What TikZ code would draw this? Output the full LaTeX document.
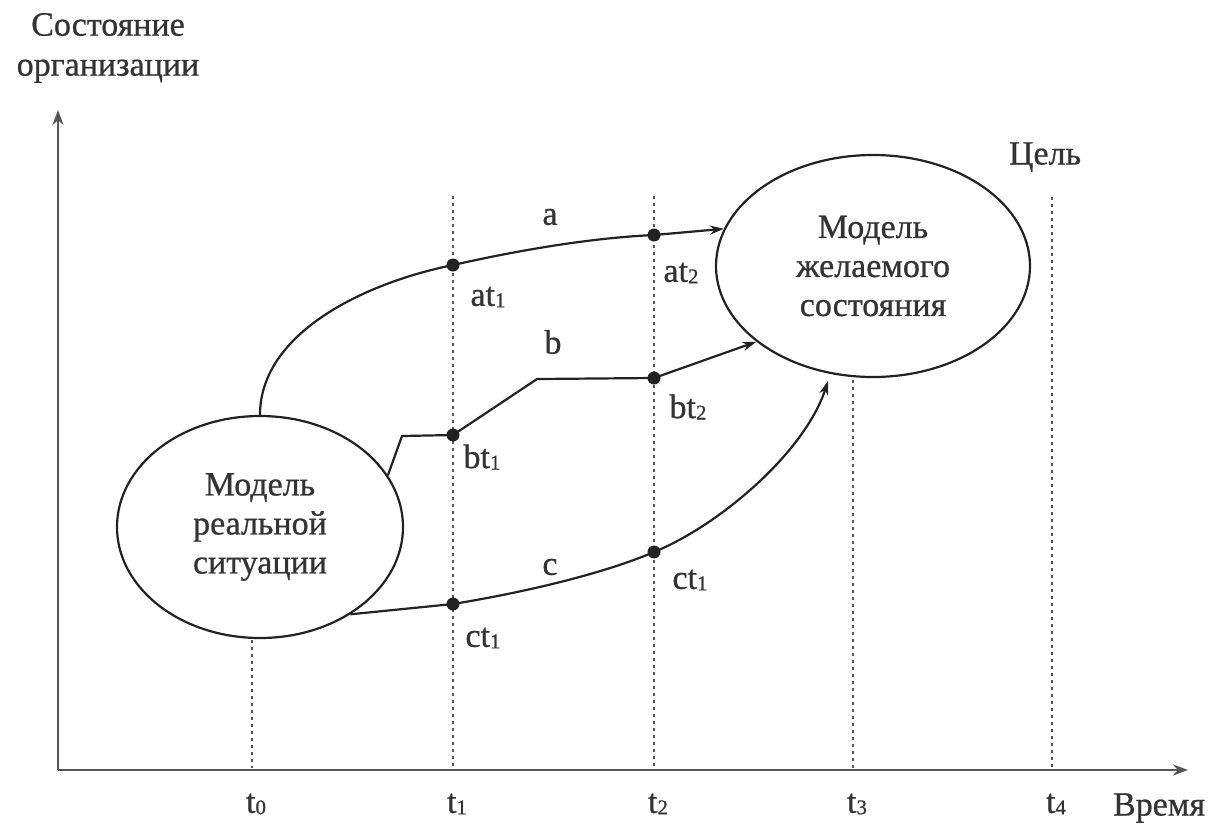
\documentclass[tikz,border=0pt]{standalone}
\usepackage{fontspec}
\setmainfont{Liberation Serif}[FakeBold=0.7]
\usetikzlibrary{shapes.geometric,arrows.meta}
\definecolor{ink}{HTML}{222222}
\definecolor{txt}{HTML}{333333}
\definecolor{axis}{HTML}{555555}
\newcommand{\sdig}[1]{\raisebox{-1.5pt}{\fontsize{21}{21}\selectfont #1}}
\begin{document}
\begin{tikzpicture}[x=1pt,y=-1pt,
  lbl/.style={font=\fontsize{34}{39}\selectfont, text=txt, inner sep=0pt},
  model/.style={draw=ink, line width=2.2pt, ellipse, inner sep=0pt, align=center,
     font=\fontsize{34}{39}\selectfont, text=txt},
  conn/.style={draw=ink, line width=2.2pt},
  arr/.style={conn, -{Stealth[length=14pt,width=9pt]}},
  axisline/.style={draw=axis, line width=2.8pt, -{Stealth[length=15pt,width=11pt]}},
  guide/.style={draw=axis, line width=2pt, dash pattern=on 3pt off 4pt},
  dot/.style={fill=ink}]
\useasboundingbox (0,0) rectangle (1209,836);
\fill[white] (0,0) rectangle (1209,836);

% axes
\coordinate (O) at (58,770);
\coordinate (Ytop) at (58,110);
\coordinate (Xend) at (1188,770);
\draw[axisline] (O) -- (Ytop);
\draw[axisline] (O) -- (Xend);

% ellipses
\node[model, minimum width=286pt, minimum height=222pt] (L) at (260,527)
  {Модель\\реальной\\ситуации};
\node[model, minimum width=314pt, minimum height=222pt] (R) at (873,266)
  {Модель\\желаемого\\состояния};

% time guides
\coordinate (g0t) at (252,640); \coordinate (g0b) at (252,768);
\coordinate (g1t) at (453,196); \coordinate (g1b) at (453,768);
\coordinate (g2t) at (654,196); \coordinate (g2b) at (654,768);
\coordinate (g3t) at (853,380); \coordinate (g3b) at (853,768);
\coordinate (g4t) at (1052,197); \coordinate (g4b) at (1052,768);
\draw[guide] (g0t) -- (g0b);
\draw[guide] (g1t) -- (g1b);
\draw[guide] (g2t) -- (g2b);
\draw[guide] (g3t) -- (g3b);
\draw[guide] (g4t) -- (g4b);

% points
\coordinate (at1) at (453,265);
\coordinate (at2) at (654,235);
\coordinate (bt1) at (453,435);
\coordinate (bt2) at (654,378);
\coordinate (ct1) at (453,604);
\coordinate (ct2) at (654,552);
\coordinate (b1) at (402,436);
\coordinate (b2) at (537,379);
\coordinate (cend) at (828,381);

% paths
\draw[arr] (L.north) .. controls (260,335) and (360,284) .. (at1)
  .. controls (520,250) and (590,238) .. (at2) -- (R.166);
\draw[arr] (L.22) -- (b1) -- (bt1) -- (b2) -- (bt2) -- (R.213);
\draw[arr] (L.-44) -- (ct1) .. controls (520,593) and (600,575) .. (ct2)
  .. controls (720,525) and (805,452) .. (cend);

\foreach \p in {at1,at2,bt1,bt2,ct1,ct2} \fill[dot] (\p) circle[radius=6.5pt];

% labels
\node[lbl] (la) at (550,217) {a};
\node[lbl] (lb) at (553,342) {b};
\node[lbl] (lc) at (550,567) {c};
\node[lbl] (lat1) at (488,297) {at\sdig{1}};
\node[lbl] (lat2) at (681,273) {at\sdig{2}};
\node[lbl] (lbt1) at (482,457) {bt\sdig{1}};
\node[lbl] (lbt2) at (688,407) {bt\sdig{2}};
\node[lbl] (lct1) at (483,638) {ct\sdig{1}};
\node[lbl] (lct2) at (690,580) {ct\sdig{1}};

\node[lbl] (t0) at (256,804) {t\sdig{0}};
\node[lbl] (t1) at (457,804) {t\sdig{1}};
\node[lbl] (t2) at (658,804) {t\sdig{2}};
\node[lbl] (t3) at (857,804) {t\sdig{3}};
\node[lbl] (t4) at (1056,804) {t\sdig{4}};
\node[lbl] (time) at (1159,808) {Время};
\node[lbl] (goal) at (1045,157) {Цель};
\node[lbl, align=center, font=\fontsize{34}{40}\selectfont] (state) at (108,48) {Состояние\\организации};
\end{tikzpicture}
\end{document}
